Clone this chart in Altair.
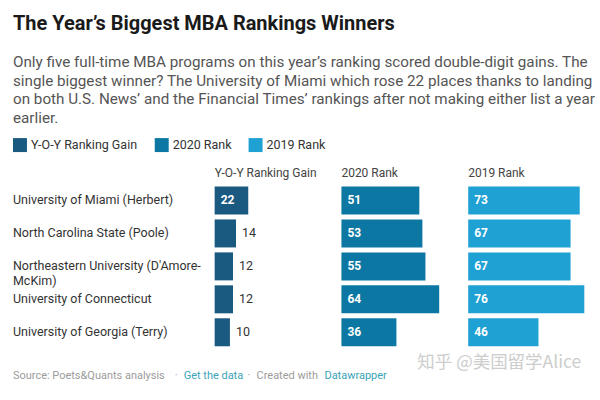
import altair as alt
import pandas as pd

# ---- data ----
schools = [
    "University of Miami (Herbert)",
    "North Carolina State (Poole)",
    "Northeastern University (D'Amore-\nMcKim)",
    "University of Connecticut",
    "University of Georgia (Terry)",
]
gain = [22, 14, 12, 12, 10]
rank_2020 = [51, 53, 55, 64, 36]
rank_2019 = [73, 67, 67, 76, 46]
metrics = ["Y-O-Y Ranking Gain", "2020 Rank", "2019 Rank"]
inside_min = [20, 0, 0]   # values at/above this get their label inside the bar

title_text = "The Year\u2019s Biggest MBA Rankings Winners"
subtitle_lines = [
    "Only five full-time MBA programs on this year\u2019s ranking scored double-digit gains. The",
    "single biggest winner? The University of Miami which rose 22 places thanks to landing",
    "on both U.S. News\u2019 and the Financial Times\u2019 rankings after not making either list a year",
    "earlier.",
]
footer_parts = ["Source: Poets&Quants analysis", "\u00b7", "Get the data", "\u00b7",
                "Created with", "Datawrapper"]
watermark = "\u77e5\u4e4e  @\u7f8e\u56fd\u7559\u5b66Alice"

# ---- styling ----
colors = ["#1b5a80", "#0c77a3", "#1fa1d3"]
footer_colors = ["#9b9b9b", "#9b9b9b", "#3aa3b8", "#9b9b9b", "#9b9b9b", "#3aa3b8"]
footer_x = [0, 162, 171, 235, 244, 312]
FONT = "Roboto"

values = [gain, rank_2020, rank_2019]
rows = []
for m, vals in zip(metrics, values):
    for s, v in zip(schools, vals):
        rows.append({"school": s, "metric": m, "value": v})
df = pd.DataFrame(rows)
names_df = pd.DataFrame({"school": schools})

Y = alt.Y(
    "school:N",
    sort=schools,
    axis=None,
    scale=alt.Scale(domain=schools, paddingInner=0.15, paddingOuter=0.075),
)
PANEL_H = 165
PANEL_W = 127
XSCALE = alt.Scale(domain=[0, 83])


def header(t):
    return alt.TitleParams(
        t, anchor="start", fontSize=12, font=FONT, fontWeight="normal",
        color="#444444", offset=4,
    )


names = (
    alt.Chart(names_df)
    .mark_text(align="left", baseline="middle", fontSize=12.5, font=FONT,
               color="#333333", lineBreak="\n", lineHeight=15)
    .encode(y=Y, x=alt.value(0), text="school:N")
    .properties(width=202, height=PANEL_H, title=header(" "))
)

panels = [names]
for m, thr in zip(metrics, inside_min):
    base = alt.Chart(df).transform_filter(alt.datum.metric == m)
    bars = base.mark_bar().encode(
        x=alt.X("value:Q", scale=XSCALE, axis=None),
        y=Y,
        color=alt.Color(
            "metric:N",
            scale=alt.Scale(domain=metrics, range=colors),
            legend=alt.Legend(
                orient="top", direction="horizontal", title=None,
                symbolType="square", symbolSize=196, symbolStrokeWidth=0,
                labelFontSize=12.5, labelFont=FONT, labelColor="#333333",
                columnPadding=17, labelOffset=4, offset=15, padding=0,
            ),
        ),
    )
    txt_in = (
        base.transform_filter(alt.datum.value >= thr)
        .transform_calculate(zero="0")
        .mark_text(align="left", baseline="middle", dx=6, fontSize=12,
                   font=FONT, fontWeight="bold", color="white")
        .encode(x=alt.X("zero:Q", scale=XSCALE, axis=None), y=Y, text="value:Q")
    )
    txt_out = (
        base.transform_filter(alt.datum.value < thr)
        .mark_text(align="left", baseline="middle", dx=6, fontSize=12.5,
                   font=FONT, color="#333333")
        .encode(x=alt.X("value:Q", scale=XSCALE, axis=None), y=Y, text="value:Q")
    )
    panels.append(
        alt.layer(bars, txt_in, txt_out).properties(
            width=PANEL_W, height=PANEL_H, title=header(m)
        )
    )

main = alt.hconcat(*panels, spacing=0)

foot_src = alt.Chart(pd.DataFrame({"k": [0]}))
foot_layers = []
for txt, col, xp in zip(footer_parts, footer_colors, footer_x):
    foot_layers.append(
        foot_src.mark_text(align="left", baseline="middle", fontSize=11,
                           font=FONT, color=col, text=txt)
        .encode(x=alt.value(xp), y=alt.value(8))
    )
foot_layers.append(
    foot_src.mark_text(align="left", baseline="middle", fontSize=17.5,
                       font="Noto Sans CJK SC", color="#cdcdcd", text=watermark)
    .encode(x=alt.value(405), y=alt.value(-4.5))
)
footer = alt.layer(*foot_layers).properties(width=583, height=16)

chart = (
    alt.vconcat(main, footer, spacing=5)
    .properties(
        title=alt.TitleParams(
            text=title_text,
            subtitle=subtitle_lines,
            anchor="start",
            font=FONT, fontSize=20, fontWeight="bold", color="#1a1a1a",
            subtitleFont=FONT, subtitleFontSize=15.25, subtitleColor="#555555",
            subtitleLineHeight=18.5, subtitlePadding=22, offset=12,
        ),
        padding={"left": 13, "top": 13, "right": 4, "bottom": 4},
        background="white",
    )
    .configure_view(stroke=None)
)

chart.save("out.html", embed_options={"renderer": "svg", "actions": False})
